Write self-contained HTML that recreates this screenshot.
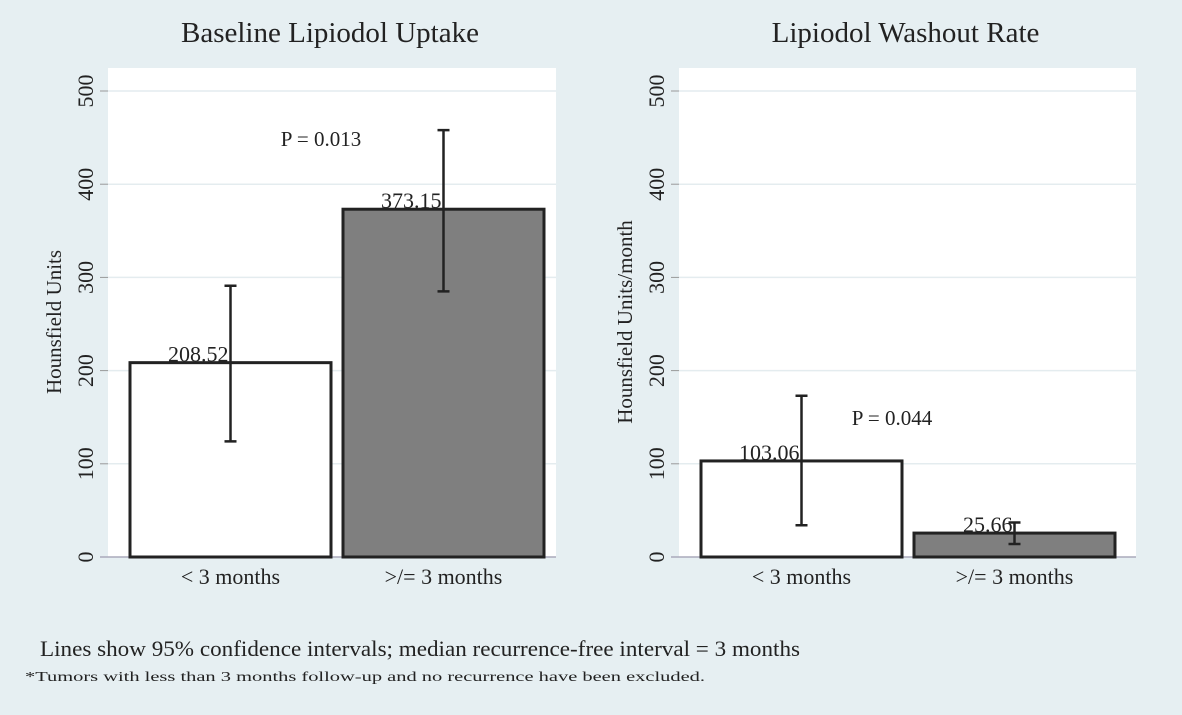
<!DOCTYPE html>
<html><head><meta charset="utf-8"><style>
body{margin:0;background:#e6eff2;}
svg text{font-family:"Liberation Serif",serif;fill:#222;}
</style></head><body>
<svg width="1182" height="710" xmlns="http://www.w3.org/2000/svg" id="chart">
<rect width="1182" height="710" fill="#e6eff2"/>
<g id="panels"></g>
<text x="40" y="656" font-size="22" textLength="760" lengthAdjust="spacingAndGlyphs">Lines show 95% confidence intervals; median recurrence-free interval = 3 months</text>
<text x="25" y="681" font-size="14" textLength="680" lengthAdjust="spacingAndGlyphs">*Tumors with less than 3 months follow-up and no recurrence have been excluded.</text>
</svg>
<script>
const categories = ["< 3 months", ">/= 3 months"];
const uptakeValues = [208.52, 373.15];
const uptakeLow = [124, 285];
const uptakeHigh = [291, 458];
const washoutValues = [103.06, 25.66];
const washoutLow = [34, 14];
const washoutHigh = [173, 37];
const yTicks = [0, 100, 200, 300, 400, 500];
const pLabels = ["P = 0.013", "P = 0.044"];

const NS = "http://www.w3.org/2000/svg";
const g = document.getElementById("panels");
function mk(tag, attrs, parent){const e=document.createElementNS(NS,tag);for(const k in attrs)e.setAttribute(k,attrs[k]);(parent||g).appendChild(e);return e;}
const y0 = 557, yScale = 0.932;
function yPos(v){return y0 - v*yScale;}

function panel(cfg){
  const p = mk("g",{});
  
  
  const bg = mk("rect",{x:cfg.x0,y:68,width:cfg.x1-cfg.x0,height:y0-68,fill:"#ffffff"},p);
  
  
  yTicks.forEach(t=>{
    const y=yPos(t);
    if(t>0) mk("line",{x1:cfg.x0,x2:cfg.x1,y1:y,y2:y,stroke:"#e4ecef","stroke-width":1.5},p);
    mk("line",{x1:cfg.x0-8,x2:cfg.x0,y1:y,y2:y,stroke:"#999"},p);
    const tl = mk("text",{x:0,y:0,"font-size":22,"text-anchor":"middle",transform:`translate(${cfg.x0-15},${y}) rotate(-90)`},p);
    tl.textContent=t;
    
    
  });
  mk("line",{x1:cfg.x0-8,x2:cfg.x1,y1:y0,y2:y0,stroke:"#aab",'stroke-width':1.5},p);
  const at = mk("text",{x:0,y:0,"font-size":21,"text-anchor":"middle",transform:`translate(${cfg.x0-47},${cfg.ty}) rotate(-90)`},p);
  at.textContent=cfg.ytitle;
  
  
  const ti = mk("text",{x:(cfg.x0+cfg.x1)/2-2,y:42,"font-size":29,"text-anchor":"middle"},p);
  ti.textContent=cfg.title;
  
  
  const bw = 201, gap = 12, bx0 = cfg.x0+22;
  cfg.vals.forEach((v,i)=>{
    const x = bx0 + i*(bw+gap);
    const b = mk("rect",{x:x,y:yPos(v),width:bw,height:y0-yPos(v),fill:i?"#7f7f7f":"#ffffff",stroke:"#222","stroke-width":3},p);
    
    
    const cx = x+bw/2;
    const lo=yPos(cfg.lo[i]), hi=yPos(cfg.hi[i]);
    const eb = mk("path",{d:`M${cx},${lo}V${hi}M${cx-6},${lo}H${cx+6}M${cx-6},${hi}H${cx+6}`,stroke:"#222","stroke-width":2.5,fill:"none"},p);
    
    
    const vl = mk("text",{x:cx-2,y:yPos(v)-1,"font-size":22,"text-anchor":"end"},p);
    vl.textContent=v.toFixed(2);
    
    
    const cl = mk("text",{x:cx,y:584,"font-size":22,"text-anchor":"middle"},p);
    cl.textContent=categories[i];
    
    
  });
  const pl = mk("text",{x:cfg.px,y:cfg.py,"font-size":21,"text-anchor":"middle"},p);
  pl.textContent=cfg.p;
  
  
}
panel({name:"baseline-uptake-panel",x0:108,x1:556,vals:uptakeValues,lo:uptakeLow,hi:uptakeHigh,title:"Baseline Lipiodol Uptake",ytitle:"Hounsfield Units",ty:322,p:pLabels[0],px:321,py:146});
panel({name:"washout-rate-panel",x0:679,x1:1136,vals:washoutValues,lo:washoutLow,hi:washoutHigh,title:"Lipiodol Washout Rate",ytitle:"Hounsfield Units/month",ty:322,p:pLabels[1],px:892,py:425});
</script>
</body></html>
